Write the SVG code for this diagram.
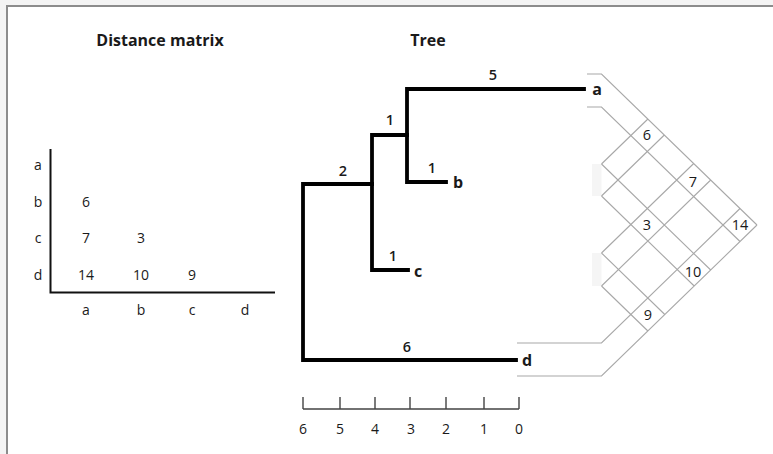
<svg xmlns="http://www.w3.org/2000/svg" width="773" height="454" viewBox="0 0 773 454">
  <style>
    text { font-family: "Open Sans", "Noto Sans", "Liberation Sans", sans-serif; fill: #1a1a1a; text-anchor: middle; }
    .title { font-size: 16px; font-weight: bold; }
    .num { font-size: 14px; font-weight: 500; }
    .branch { font-size: 14.5px; font-weight: 600; }
    .leaf { font-size: 16px; font-weight: bold; }
    .cell { font-size: 14.5px; font-weight: 500; }
    .axis { fill: none; stroke: #111; stroke-width: 2; }
    .tree { fill: none; stroke: #000; stroke-width: 3.8; stroke-linecap: square; stroke-linejoin: miter; }
    .scale { fill: none; stroke: #444; stroke-width: 1.4; }
    .grid { fill: none; stroke: #a8a8a8; stroke-width: 1.1; }
    .strip { fill: #f5f5f5; }
  </style>

  <!-- frame -->
  <rect x="0" y="0" width="773" height="454" fill="#f4f4f4"/>
  <rect x="7" y="6" width="800" height="500" fill="#ffffff" stroke="#8c8c8c" stroke-width="2"/>

  <!-- headings -->
  <text class="title" x="160" y="46">Distance matrix</text>
  <text class="title" x="428" y="46">Tree</text>

  <!-- distance matrix -->
  <g id="matrix">
    <path class="axis" d="M50.5,149 V292.5 H275"/>
    <g class="num">
      <text x="38" y="170">a</text>
      <text x="38" y="207">b</text>
      <text x="38" y="243">c</text>
      <text x="38" y="280">d</text>
      <text x="86" y="315">a</text>
      <text x="141" y="315">b</text>
      <text x="192" y="315">c</text>
      <text x="245" y="315">d</text>
      <text x="86" y="207">6</text>
      <text x="86" y="243">7</text>
      <text x="141" y="243">3</text>
      <text x="86" y="280">14</text>
      <text x="141" y="280">10</text>
      <text x="192" y="280">9</text>
    </g>
  </g>

  <!-- tree branches -->
  <g id="connectors">
    <path class="tree" d="M584,89 H407 V182 H446"/>
    <path class="tree" d="M407,135 H372 V270 H408"/>
    <path class="tree" d="M372,184 H303 V360 H516"/>
  </g>

  <g id="branch-lengths">
    <text class="branch" x="493" y="80">5</text>
    <text class="branch" x="390" y="125">1</text>
    <text class="branch" x="343" y="176">2</text>
    <text class="branch" x="432" y="173">1</text>
    <text class="branch" x="393" y="261">1</text>
    <text class="branch" x="407" y="352">6</text>
  </g>

  <g id="leaf-a"><text class="leaf" x="597" y="95">a</text></g>
  <g id="leaf-b"><text class="leaf" x="458" y="188">b</text></g>
  <g id="leaf-c"><text class="leaf" x="418" y="277">c</text></g>
  <g id="leaf-d"><text class="leaf" x="527" y="366">d</text></g>

  <!-- time scale -->
  <g id="scale">
    <path class="scale" d="M303,409 H519 M303,397 V409 M340,397 V409 M375,397 V409 M410,397 V409 M446,397 V409 M484,397 V409 M519,397 V409"/>
    <g class="num">
      <text x="303" y="434">6</text>
      <text x="340" y="434">5</text>
      <text x="375" y="434">4</text>
      <text x="411" y="434">3</text>
      <text x="446" y="434">2</text>
      <text x="484" y="434">1</text>
      <text x="519" y="434">0</text>
    </g>
  </g>

  <!-- pairwise distance lattice -->
  <g id="lattice">
    <rect class="strip" x="592" y="164" width="9.5" height="32"/>
    <rect class="strip" x="592" y="253" width="9.5" height="33"/>
    <path class="grid" d="
      M587,74 H601.5 L757,225
      M587,107 H601.5 L740,241.5
      M601.5,164 L710.7,270
      M601.5,196 L694.2,286
      M601.5,253 L664.8,314.5
      M601.5,286 L647.9,331
      M517,376 H601.5 L757,225
      M517,343 H601.5 L740,208.5
      M601.5,286 L710.7,180
      M601.5,253 L693.7,163.5
      M601.5,196 L664.3,135
      M601.5,164 L647.9,119"/>
    <g class="cell">
      <text x="647" y="140">6</text>
      <text x="693" y="187">7</text>
      <text x="647" y="230">3</text>
      <text x="740" y="230">14</text>
      <text x="693" y="277">10</text>
      <text x="648" y="320">9</text>
    </g>
  </g>
</svg>
